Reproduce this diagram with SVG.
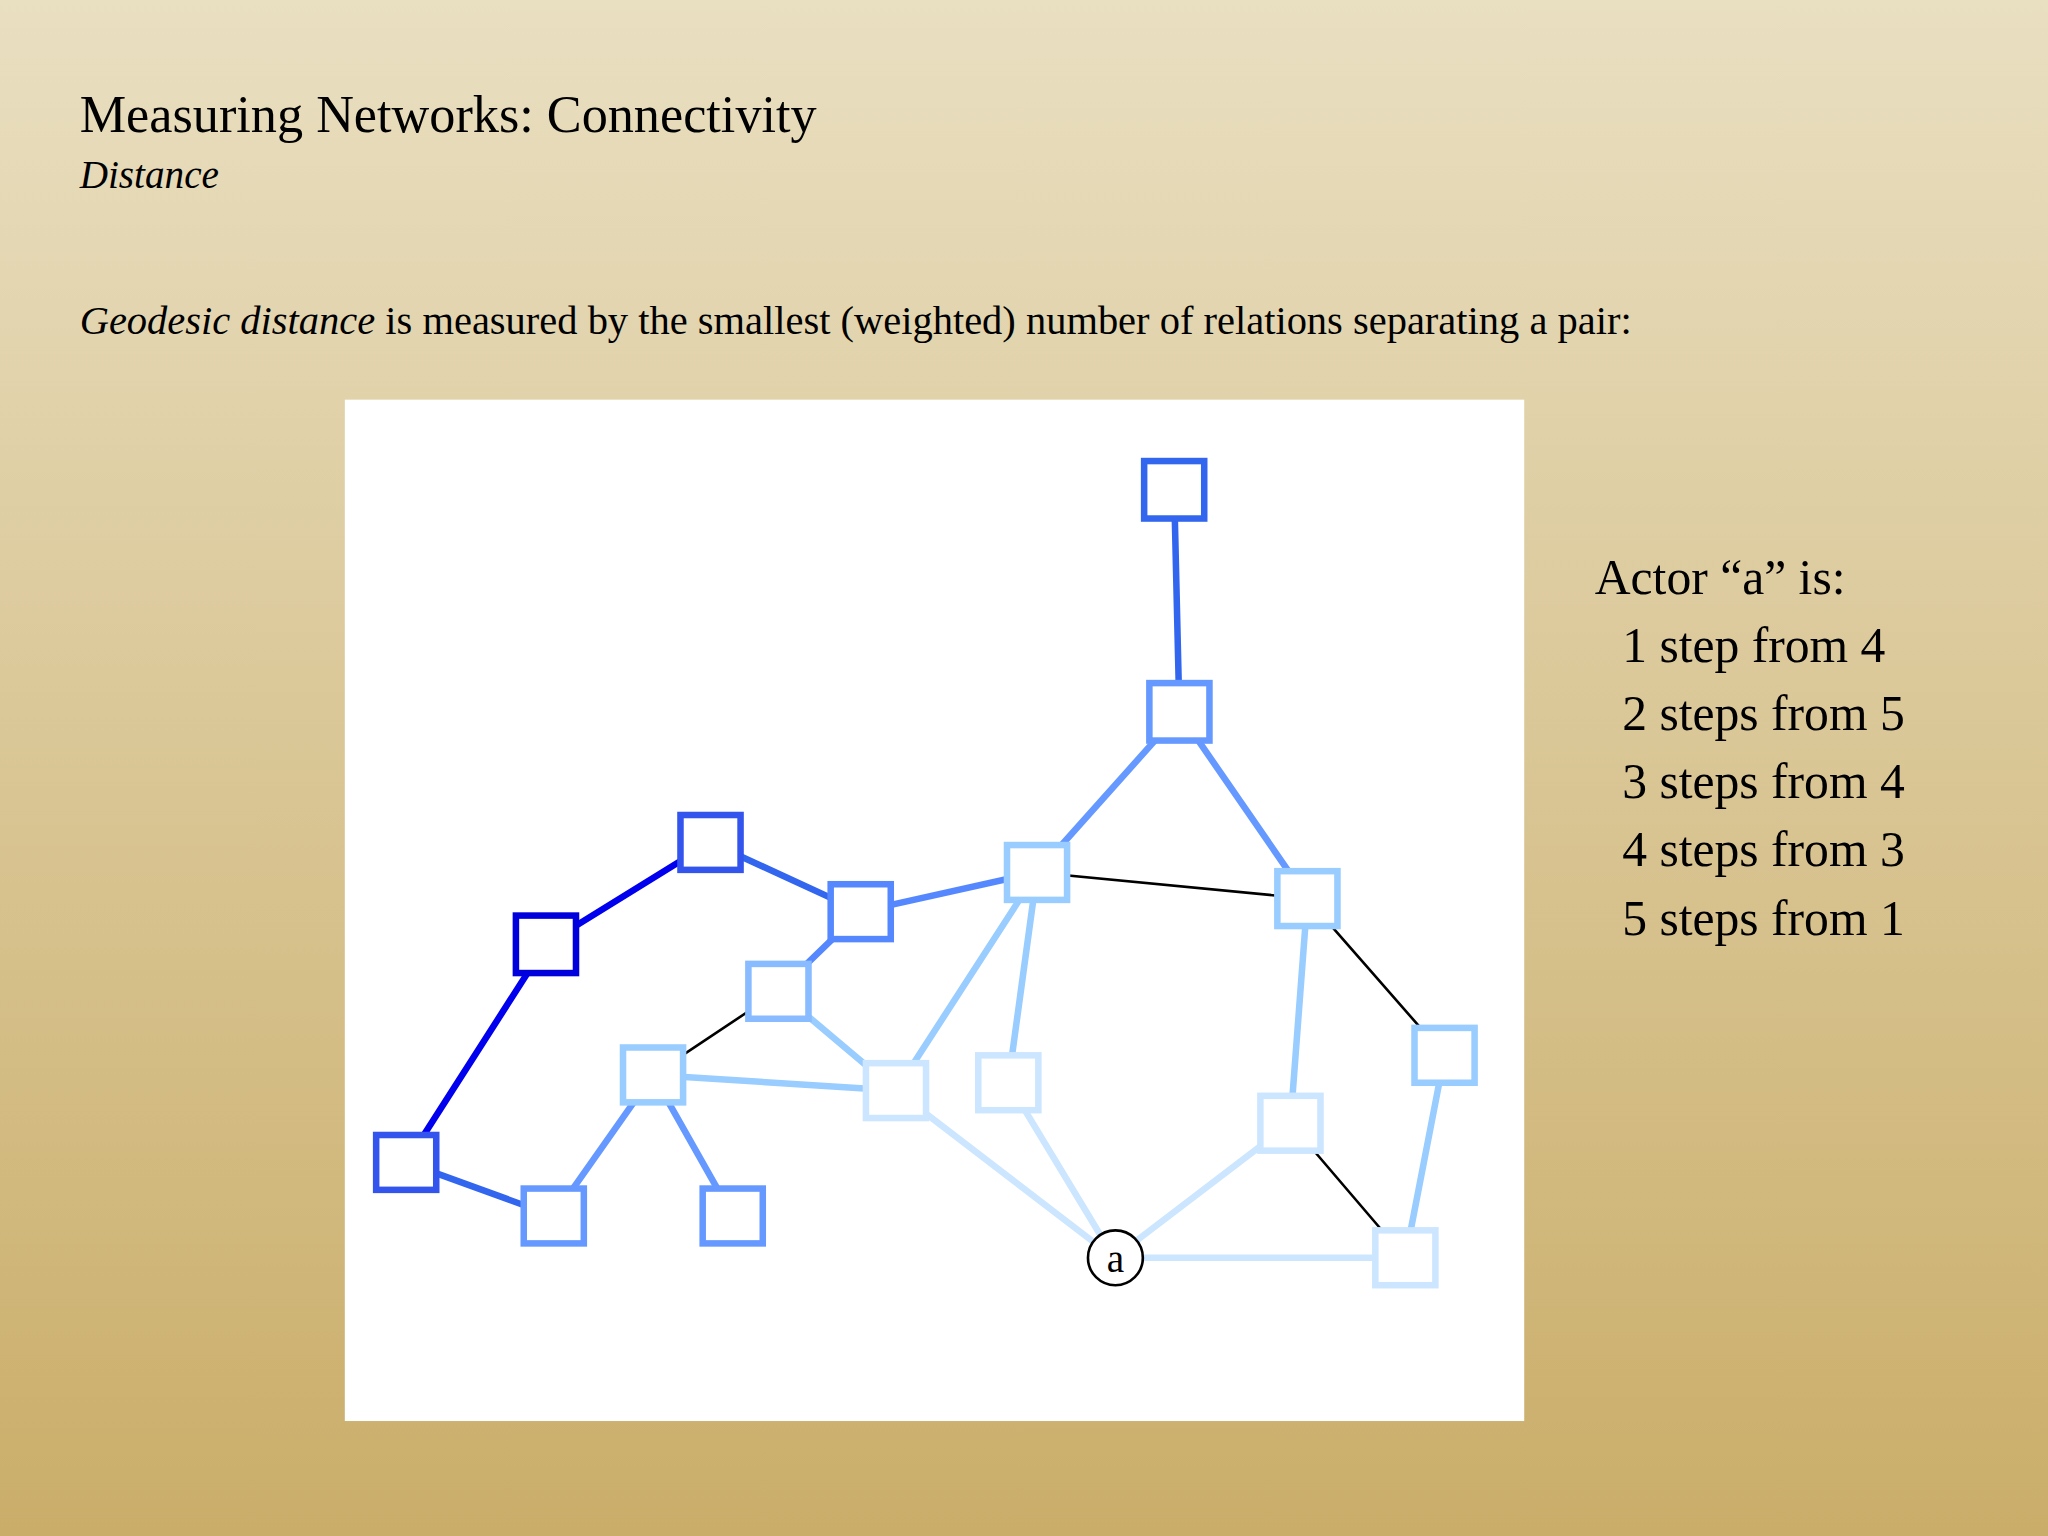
<svg xmlns="http://www.w3.org/2000/svg" width="2048" height="1536" viewBox="0 0 2048 1536">
<defs>
<linearGradient id="bg" x1="0" y1="0" x2="0" y2="1"><stop offset="0" stop-color="#e9dfc1"/><stop offset="1" stop-color="#caad69"/></linearGradient>
<style>
text{font-family:"Liberation Serif","Times New Roman",serif;fill:#000}
.n rect{fill:#fff;stroke-width:5}
.e line{stroke-width:5;stroke-linecap:round}
.k{stroke:#000;stroke-width:2!important}
</style>
</defs>
<rect width="2048" height="1536" fill="url(#bg)"/>
<g transform="scale(1.3061)">
<text x="61" y="101" font-size="40">Measuring Networks: Connectivity</text>
<text x="61" y="144" font-size="30" font-style="italic">Distance</text>
<text x="61" y="256" font-size="31"><tspan font-style="italic">Geodesic distance</tspan> is measured by the smallest (weighted) number of relations separating a pair:</text>
<rect x="264" y="306" width="903" height="782" fill="#fff"/>
<g id="connectors" class="e">
<line x1="899" y1="376" x2="903" y2="546" stroke="#3366ee"/>
<line x1="903" y1="546" x2="794" y2="668" stroke="#6699ff"/>
<line x1="903" y1="546" x2="1001" y2="688" stroke="#6699ff"/>
<line x1="544" y1="645" x2="418" y2="723" stroke="#0000ee"/>
<line x1="544" y1="645" x2="659" y2="698" stroke="#3366ee"/>
<line x1="659" y1="698" x2="794" y2="668" stroke="#5588ff"/>
<line x1="659" y1="698" x2="596" y2="759" stroke="#5588ff"/>
<line x1="418" y1="723" x2="311" y2="890" stroke="#0000ee"/>
<line x1="311" y1="890" x2="424" y2="931" stroke="#3366ee"/>
<line class="k" x1="794" y1="668" x2="1001" y2="688"/>
<line x1="794" y1="668" x2="686" y2="835" stroke="#99ccff"/>
<line x1="794" y1="668" x2="772" y2="829" stroke="#99ccff"/>
<line x1="1001" y1="688" x2="988" y2="860" stroke="#99ccff"/>
<line class="k" x1="1001" y1="688" x2="1106" y2="808"/>
<line class="k" x1="596" y1="759" x2="500" y2="823"/>
<line x1="596" y1="759" x2="686" y2="835" stroke="#99ccff"/>
<line x1="500" y1="823" x2="686" y2="835" stroke="#99ccff"/>
<line x1="500" y1="823" x2="424" y2="931" stroke="#6699ff"/>
<line x1="500" y1="823" x2="561" y2="931" stroke="#6699ff"/>
<line x1="686" y1="835" x2="853" y2="963" stroke="#cce6ff"/>
<line x1="772" y1="829" x2="853" y2="963" stroke="#cce6ff"/>
<line x1="988" y1="860" x2="853" y2="963" stroke="#cce6ff"/>
<line class="k" x1="988" y1="860" x2="1076" y2="963"/>
<line x1="1106" y1="808" x2="1076" y2="963" stroke="#99ccff"/>
<line x1="853" y1="963" x2="1076" y2="963" stroke="#cce6ff"/>
</g>
<g class="n">
<g id="n1"><rect x="876" y="353" width="46" height="44" stroke="#3366ee"/></g>
<g id="n2"><rect x="880" y="523" width="46" height="44" stroke="#6699ff"/></g>
<g id="n3"><rect x="521" y="624" width="46" height="42" stroke="#3355ee"/></g>
<g id="n4"><rect x="395" y="701" width="46" height="44" stroke="#0000dd"/></g>
<g id="n5"><rect x="636" y="677" width="46" height="42" stroke="#5588ff"/></g>
<g id="n6"><rect x="771" y="647" width="46" height="42" stroke="#99ccff"/></g>
<g id="n7"><rect x="978" y="667" width="46" height="42" stroke="#99ccff"/></g>
<g id="n8"><rect x="573" y="738" width="46" height="42" stroke="#88bbff"/></g>
<g id="n9"><rect x="477" y="802" width="46" height="42" stroke="#99ccff"/></g>
<g id="n10"><rect x="663" y="814" width="46" height="42" stroke="#cce6ff"/></g>
<g id="n11"><rect x="749" y="808" width="46" height="42" stroke="#cce6ff"/></g>
<g id="n12"><rect x="1083" y="787" width="46" height="42" stroke="#99ccff"/></g>
<g id="n13"><rect x="965" y="839" width="46" height="42" stroke="#cce6ff"/></g>
<g id="n14"><rect x="288" y="869" width="46" height="42" stroke="#3355ee"/></g>
<g id="n15"><rect x="401" y="910" width="46" height="42" stroke="#6699ff"/></g>
<g id="n16"><rect x="538" y="910" width="46" height="42" stroke="#6699ff"/></g>
<g id="n17"><rect x="1053" y="942" width="46" height="42" stroke="#cce6ff"/></g>
<g id="na"><circle cx="854" cy="963" r="21" fill="#fff" stroke="#000" stroke-width="2"/><text x="854" y="974" font-size="30" text-anchor="middle">a</text></g>
</g>
<g id="legend" font-size="38">
<text x="1221" y="455" font-size="38">Actor “a” is:</text>
<text x="1242" y="507" font-size="38">1 step from 4</text>
<text x="1242" y="559" font-size="38">2 steps from 5</text>
<text x="1242" y="611" font-size="38">3 steps from 4</text>
<text x="1242" y="663" font-size="38">4 steps from 3</text>
<text x="1242" y="716" font-size="38">5 steps from 1</text>
</g>
</g>
</svg>
